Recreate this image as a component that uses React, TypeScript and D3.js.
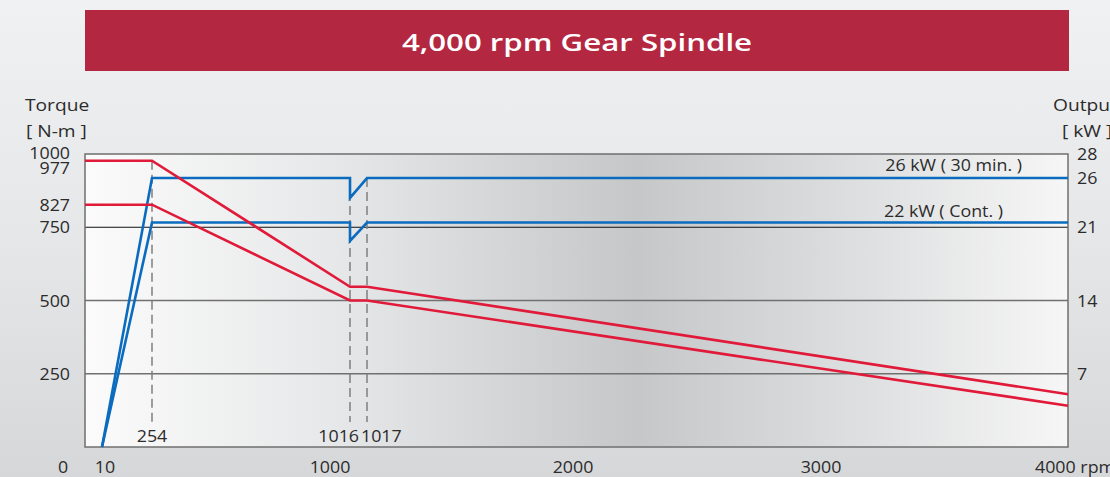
import React from "react";
import * as d3 from "d3";

// ---- data ----
const title = "4,000 rpm Gear Spindle";
// x axis break points (rpm) – chart is not drawn to scale
const rpmBreaks = [0, 10, 254, 1000, 1016, 1017, 2000, 3000, 4000, 4070];
const xTicks = [1000, 2000, 3000];
const torqueTicks = [1000, 977, 827, 750, 500, 250];
const powerTicks = [28, 26, 21, 14, 7];
const gridTorque = [750, 500, 250];

const torque30Rpm = [0, 254, 1016, 1017, 4070];
const torque30Val = [977, 977, 547, 547, 180];
const torqueContRpm = [0, 254, 1016, 1017, 4070];
const torqueContVal = [827, 827, 500, 500, 141];

const power30Rpm = [10, 254, 1016, 1016, 1017, 4070];
const power30Val = [0, 25.7, 25.7, 23.8, 25.7, 25.7];
const powerContRpm = [10, 254, 1016, 1016, 1017, 4070];
const powerContVal = [0, 21.45, 21.45, 19.7, 21.45, 21.45];

const markerRpm = [254, 1016, 1017];
const markerLabels = ["254", "1016", "1017"];

const label30 = "26 kW ( 30 min. )";
const labelCont = "22 kW ( Cont. )";

// ---- layout ----
const W = 1110, H = 477;
const plot = { l: 85, r: 1068, t: 154, b: 447 };
const RED = "#e01a38";
const BLUE = "#0b6cbf";
const TXT = "#2b2b2b";
const FONT = "'Open Sans', 'Noto Sans', sans-serif";

type TProps = {
  x: number;
  y: number;
  anchor?: "start" | "middle" | "end";
  size?: number;
  sx?: number;
  weight?: number;
  fill?: string;
  children: React.ReactNode;
};

function T({ x, y, anchor = "start", size = 15.5, sx = 1.15, weight = 400, fill = TXT, children }: TProps) {
  return (
    <text
      transform={`translate(${x},${y}) scale(${sx},1)`}
      textAnchor={anchor}
      dominantBaseline="central"
      fontSize={size}
      fontWeight={weight}
      fill={fill}
    >
      {children}
    </text>
  );
}

export default function App() {
  const x = d3
    .scaleLinear()
    .domain(rpmBreaks)
    .range([85, 102, 152, 330, 350, 367, 573, 821, 1052, 1068]);
  const yT = d3.scaleLinear().domain([0, 1000]).range([plot.b, plot.t]);
  const yP = d3.scaleLinear().domain([0, 28]).range([plot.b, plot.t]);

  const lineT = (rpm: number[], v: number[]) =>
    d3.line<number>().x((_, i) => x(rpm[i])).y((d) => yT(d))(v) as string;
  const lineP = (rpm: number[], v: number[]) =>
    d3.line<number>().x((_, i) => x(rpm[i])).y((d) => yP(d))(v) as string;

  const dashTops = [yT(977), yP(25.7), yP(25.7)];

  return (
    <svg
      width={W}
      height={H}
      style={{ position: "absolute", left: 0, top: 0, fontFamily: FONT }}
    >
      <defs>
        <linearGradient id="bg" x1="0" y1="0" x2="0" y2="1">
          <stop offset="0" stopColor="#f0f1f2" />
          <stop offset="0.5" stopColor="#e6e7e8" />
          <stop offset="1" stopColor="#d6d7d9" />
        </linearGradient>
        <linearGradient id="pg" x1="0" y1="0" x2="1" y2="0">
          <stop offset="0" stopColor="#fbfbfb" />
          <stop offset="0.25" stopColor="#e7e8e9" />
          <stop offset="0.56" stopColor="#c6c7c9" />
          <stop offset="0.8" stopColor="#dfe0e1" />
          <stop offset="1" stopColor="#f6f6f6" />
        </linearGradient>
      </defs>
      <rect x={0} y={0} width={W} height={H} fill="url(#bg)" />

      {/* title banner */}
      <rect x={85} y={10} width={984} height={61} fill="#b42741" />
      <T x={577} y={42} anchor="middle" size={24} sx={1.3} weight={600} fill="#fff">
        {title}
      </T>

      {/* plot background */}
      <rect
        x={plot.l}
        y={plot.t}
        width={plot.r - plot.l}
        height={plot.b - plot.t}
        fill="url(#pg)"
      />

      {/* grid */}
      {gridTorque.map((g) => (
        <line
          key={g}
          x1={plot.l}
          x2={plot.r}
          y1={yT(g)}
          y2={yT(g)}
          stroke={g === 750 ? "#111" : "#707070"}
          strokeWidth={g === 750 ? 1 : 1.5}
        />
      ))}

      {/* dashed markers */}
      {markerRpm.map((r, i) => (
        <line
          key={r}
          x1={x(r)}
          x2={x(r)}
          y1={dashTops[i]}
          y2={plot.b - 25}
          stroke="#7f7f7f"
          strokeWidth={1.5}
          strokeDasharray="9,5"
        />
      ))}

      {/* frame */}
      <rect
        x={plot.l}
        y={plot.t}
        width={plot.r - plot.l}
        height={plot.b - plot.t}
        fill="none"
        stroke="#6f6f6f"
        strokeWidth={1.5}
      />

      {/* curves */}
      <path d={lineP(power30Rpm, power30Val)} fill="none" stroke={BLUE} strokeWidth={2.6} />
      <path d={lineP(powerContRpm, powerContVal)} fill="none" stroke={BLUE} strokeWidth={2.6} />
      <path d={lineT(torque30Rpm, torque30Val)} fill="none" stroke={RED} strokeWidth={2.6} />
      <path d={lineT(torqueContRpm, torqueContVal)} fill="none" stroke={RED} strokeWidth={2.6} />

      {/* series labels */}
      <T x={1022} y={yP(25.7) - 13} anchor="end">{label30}</T>
      <T x={1003} y={yP(21.45) - 12} anchor="end">{labelCont}</T>

      {/* marker labels */}
      <T x={x(254)} y={436} anchor="middle">{markerLabels[0]}</T>
      <T x={x(1016) + 9} y={436} anchor="end">{markerLabels[1]}</T>
      <T x={x(1017) - 6} y={436} anchor="start">{markerLabels[2]}</T>

      {/* left axis */}
      <T x={25} y={105} size={16} sx={1.2}>Torque</T>
      <T x={26} y={131} size={16} sx={1.2}>[ N-m ]</T>
      {torqueTicks.map((t) => (
        <T key={t} x={70} y={yT(t) + (t === 1000 ? -1 : t === 977 ? 7 : 0)} anchor="end">
          {t}
        </T>
      ))}

      {/* right axis */}
      <T x={1053} y={105} size={16} sx={1.2}>Output</T>
      <T x={1062} y={131} size={16} sx={1.2}>[ kW ]</T>
      {powerTicks.map((p) => (
        <T key={p} x={1077} y={yP(p) + (p === 26 ? 3 : 0)}>
          {p}
        </T>
      ))}

      {/* bottom axis */}
      <T x={63} y={467} anchor="middle">0</T>
      <T x={x(10) + 3} y={467} anchor="middle">10</T>
      {xTicks.map((t) => (
        <T key={t} x={x(t)} y={467} anchor="middle">
          {t}
        </T>
      ))}
      <T x={x(4000) - 17} y={467}>4000 rpm</T>
    </svg>
  );
}
